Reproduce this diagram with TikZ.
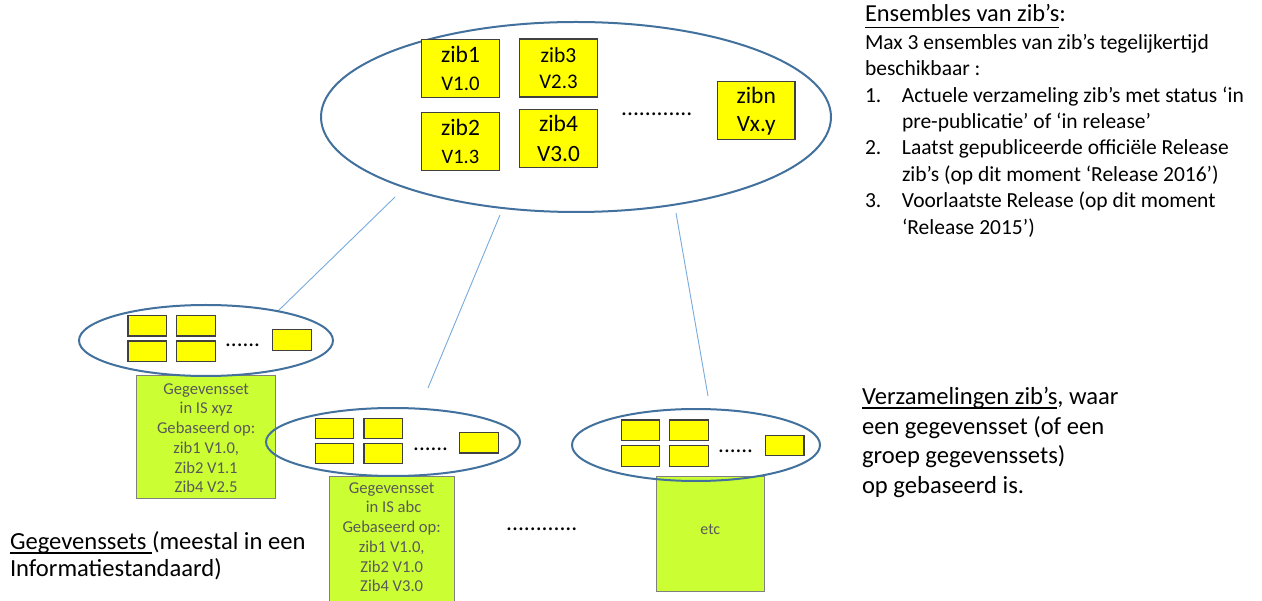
\documentclass[tikz,border=0pt]{standalone}
\usepackage{fontspec}
\setmainfont{Carlito}
\usetikzlibrary{shapes.geometric}
\definecolor{ellblue}{RGB}{65,113,156}
\definecolor{linkblue}{RGB}{120,170,222}
\definecolor{zibyellow}{RGB}{255,255,0}
\definecolor{setgreen}{RGB}{204,255,51}
\definecolor{settext}{RGB}{89,89,89}
\definecolor{boxline}{RGB}{64,64,64}
\newcommand\fs[1]{\fontsize{#1}{#1}\selectfont}
\newcommand\myul[3]{\setbox0\hbox{#3}\rlap{\raisebox{-#1}{\rule{\wd0}{#2}}}\box0}
\tikzset{
  ens/.style={ellipse, draw=ellblue, line width=2pt, inner sep=0pt},
  zibbox/.style={rectangle, draw=boxline, fill=zibyellow, line width=1.1pt, inner sep=0pt},
  bigzib/.style={zibbox, minimum width=77.6pt, minimum height=58pt},
  smallzib/.style={zibbox, minimum width=38.5pt, minimum height=20.5pt},
  setbox/.style={rectangle, draw=gray, fill=setgreen, line width=0.9pt, inner sep=0pt},
  link/.style={draw=linkblue, line width=0.9pt},
  txt/.style={inner sep=0pt, outer sep=0pt, text=black},
  settxt/.style={inner sep=0pt, outer sep=0pt, text=settext, anchor=base},
  dots/.style={inner sep=0pt, anchor=base west, text=black},
}
\begin{document}
\begin{tikzpicture}[x=1pt,y=-1pt]
\useasboundingbox (0,0) rectangle (1262,601);
\fill[white] (0,0) rectangle (1262,601);

% green data-set boxes (behind ellipses)
\node[setbox, minimum width=139pt, minimum height=123.3pt] (gL) at (206.2,436.7) {};
\node[setbox, minimum width=124.7pt, minimum height=134pt] (gM) at (391.7,543) {};
\node[setbox, minimum width=107.3pt, minimum height=115pt] (gR) at (710.3,534.2) {};

\node[settxt] (gLt) at (206.2,394.3) {\fontsize{16.6}{19.7}\selectfont\begin{tabular}[t]{@{}c@{}}Gegevensset\\in IS xyz\\Gebaseerd op:\\zib1 V1.0,\\Zib2 V1.1\\Zib4 V2.5\end{tabular}};
\node[settxt] (gMt) at (391.7,493.3) {\fontsize{16.6}{19.7}\selectfont\begin{tabular}[t]{@{}c@{}}Gegevensset\\\ in IS abc\\Gebaseerd op:\\zib1 V1.0,\\Zib2 V1.0\\Zib4 V3.0\end{tabular}};
\node[settxt] (gRt) at (710.3,535) {\fs{16}etc};

% connectors
\coordinate (c1a) at (395,197);
\coordinate (c1b) at (277,312);
\coordinate (c2a) at (500,215);
\coordinate (c2b) at (428,388);
\coordinate (c3a) at (676,213);
\coordinate (c3b) at (708,396);
\draw[link] (c1a) -- (c1b);
\draw[link] (c2a) -- (c2b);
\draw[link] (c3a) -- (c3b);

% top ensemble
\node[ens, minimum width=510pt, minimum height=190pt] (top) at (576,117) {};
\node[bigzib] (z1) at (460.5,68.2) {};
\node[bigzib] (z3) at (558.5,68) {};
\node[bigzib] (z2) at (460.5,141.5) {};
\node[bigzib] (z4) at (558.5,138.7) {};
\node[bigzib] (zn) at (756.2,110.3) {};
\node[txt, anchor=base] (z1a) at (460.5,62.7) {\fs{23.5}zib1};
\node[txt, anchor=base] (z1b) at (460.5,90.7) {\fs{20.8}V1.0};
\node[txt, anchor=base] (z3a) at (558.5,62.7) {\fs{21.5}zib3};
\node[txt, anchor=base] (z3b) at (558.5,89) {\fs{20.8}V2.3};
\node[txt, anchor=base] (z2a) at (460.5,136) {\fs{23.5}zib2};
\node[txt, anchor=base] (z2b) at (460.5,163.3) {\fs{20.5}V1.3};
\node[txt, anchor=base] (z4a) at (558.5,131.7) {\fs{23.5}zib4};
\node[txt, anchor=base] (z4b) at (558.5,161.7) {\fs{23.3}V3.0};
\node[txt, anchor=base] (zna) at (756.2,103.3) {\fs{23.5}zibn};
\node[txt, anchor=base] (znb) at (756.2,131.7) {\fs{23.3}Vx.y};
\node[dots] (topdots) at (621,115.5) {\fs{23.5}............};

% left ensemble
\node[ens, minimum width=254pt, minimum height=71pt] (eL) at (206,340.5) {};
\node[smallzib] (l1) at (147.2,325.8) {};
\node[smallzib] (l2) at (195.8,325.8) {};
\node[smallzib] (l3) at (147.2,351.3) {};
\node[smallzib] (l4) at (195.8,351.3) {};
\node[smallzib] (l5) at (291.8,340) {};
\node[dots] (ldots) at (225,346.5) {\fs{23}......};

% middle ensemble
\node[ens, minimum width=254pt, minimum height=68pt] (eM) at (393,442) {};
\node[smallzib] (m1) at (334.5,428.5) {};
\node[smallzib] (m2) at (383.2,428.5) {};
\node[smallzib] (m3) at (334.5,453.7) {};
\node[smallzib] (m4) at (383.2,453.7) {};
\node[smallzib] (m5) at (478.8,442.8) {};
\node[dots] (mdots) at (413,450.5) {\fs{23}......};

% right ensemble
\node[ens, minimum width=248pt, minimum height=72pt] (eR) at (696,445) {};
\node[smallzib] (r1) at (640.5,430.3) {};
\node[smallzib] (r2) at (688.8,430.3) {};
\node[smallzib] (r3) at (640.5,456.2) {};
\node[smallzib] (r4) at (688.8,456.2) {};
\node[smallzib] (r5) at (784.7,445.5) {};
\node[dots] (rdots) at (718,453) {\fs{23}......};

\node[dots] (bdots) at (506,530.5) {\fs{23.5}............};

% right-hand explanation
\node[txt, anchor=base west] (title) at (865,21.7) {\fs{24.4}\myul{6.5pt}{1.6pt}{Ensembles van zib’s}:};
\node[txt, anchor=base west] (body) at (865,49.3) {\fontsize{21.5}{26.4}\selectfont\begin{tabular}[t]{@{}l@{}}
Max 3 ensembles van zib’s tegelijkertijd\\
beschikbaar :\\
\makebox[37pt][l]{1.}Actuele verzameling zib’s met status ‘in\\
\hspace*{37pt}pre-publicatie’ of ‘in release’\\
\makebox[37pt][l]{2.}Laatst gepubliceerde officiële Release\\
\hspace*{37pt}zib’s (op dit moment ‘Release 2016’)\\
\makebox[37pt][l]{3.}Voorlaatste Release (op dit moment\\
\hspace*{37pt}‘Release 2015’)
\end{tabular}};

\node[txt, anchor=base west] (verz) at (862,405) {\fontsize{24.6}{29.4}\selectfont\begin{tabular}[t]{@{}l@{}}
\myul{4pt}{1.8pt}{Verzamelingen zib’s}, waar\\
een gegevensset (of een\\
groep gegevenssets)\\
op gebaseerd is.
\end{tabular}};

\node[txt, anchor=base west] (geg) at (10,550) {\fontsize{24.6}{26.7}\selectfont\begin{tabular}[t]{@{}l@{}}
\myul{4pt}{1.8pt}{Gegevenssets }(meestal in een\\
Informatiestandaard)
\end{tabular}};
\end{tikzpicture}
\end{document}
